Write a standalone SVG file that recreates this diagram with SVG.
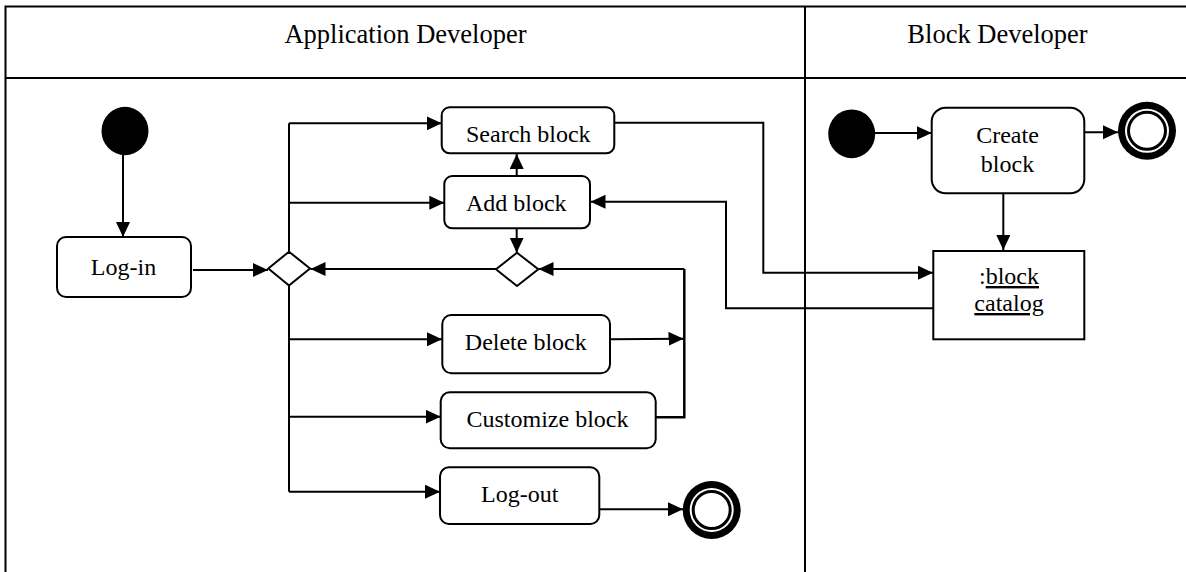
<svg xmlns="http://www.w3.org/2000/svg" width="1186" height="572" viewBox="0 0 1186 572">
<style>
.frame{fill:none;stroke:#000;stroke-width:2}
.act{fill:#fff;stroke:#000;stroke-width:2}
.dia{fill:#fff;stroke:#000;stroke-width:2}
.ln{fill:none;stroke:#000;stroke-width:2}
.arr{fill:none;stroke:#000;stroke-width:2;marker-end:url(#ah)}
.t{font-family:"Liberation Serif","Times New Roman",serif;font-size:24px;fill:#000;text-anchor:middle}
.h{font-family:"Liberation Serif","Times New Roman",serif;font-size:26.5px;fill:#000;text-anchor:middle}
</style>
<defs>
<marker id="ah" markerUnits="userSpaceOnUse" markerWidth="16" markerHeight="15" refX="15" refY="7" orient="auto">
<path d="M0,0 L15,7 L0,14 z" fill="#000"/>
</marker>
</defs>
<rect width="1186" height="572" fill="#fff"/>
<g id="swimlanes">
<path class="frame" d="M5.5,572 V6.5 H1186 M5.5,78 H1186 M805,6.5 V572"/>
<text class="h" x="405.5" y="43">Application Developer</text>
<text class="h" x="997.5" y="43">Block Developer</text>
</g>
<g id="connectors">
<path class="arr" d="M123,155 V237"/>
<path class="arr" d="M193,270 H268"/>
<path class="ln" d="M289,251.7 V123.3 M289,286 V491.7"/>
<path class="arr" d="M289,123.3 H441.7"/>
<path class="arr" d="M289,202.7 H444.3"/>
<path class="arr" d="M289,339.3 H442"/>
<path class="arr" d="M289,416.7 H440.7"/>
<path class="arr" d="M289,491.7 H440"/>
<path class="arr" d="M516.7,176 V154"/>
<path class="arr" d="M516.7,228.3 V252.7"/>
<path class="arr" d="M496,269 H310.5"/>
<path class="arr" d="M684.3,269 H538.5"/>
<path class="ln" d="M684.3,269 V417.3 H655.7" style="stroke-width:2.5"/>
<path class="arr" d="M610.5,339.3 L683.5,338.7"/>
<path class="arr" d="M597,509.3 H683"/>
<path class="arr" d="M614.3,122.7 H763.3 V272.7 H933"/>
<path class="arr" d="M933.3,308.3 H726 V201.7 H590.5"/>
<path class="arr" d="M875,133 H931.7"/>
<path class="arr" d="M1084.3,132.3 H1118"/>
<path class="arr" d="M1003.3,193.3 V250"/>
</g>
<g id="start1"><ellipse cx="125" cy="131" rx="23.5" ry="24.2" fill="#000"/></g>
<g id="login"><rect class="act" x="57" y="237" width="134" height="60" rx="9"/><text class="t" x="123.5" y="275">Log-in</text></g>
<g id="decision1"><path class="dia" d="M268.3,268.5 L289,251.7 L310,268.5 L289,285.5 z"/></g>
<g id="search"><rect class="act" x="441.7" y="107.3" width="172.6" height="46" rx="8"/><text class="t" x="528.3" y="141.7">Search block</text></g>
<g id="add"><rect class="act" x="444.3" y="176" width="145.7" height="52.3" rx="8"/><text class="t" x="516.3" y="210.5">Add block</text></g>
<g id="decision2"><path class="dia" d="M496,269.3 L517,252.7 L538.3,269.3 L517,286 z"/></g>
<g id="delete"><rect class="act" x="442.3" y="315" width="167.7" height="58.3" rx="9"/><text class="t" x="525.8" y="350">Delete block</text></g>
<g id="customize"><rect class="act" x="440.7" y="392.3" width="215" height="56" rx="9"/><text class="t" x="547.5" y="426.7">Customize block</text></g>
<g id="logout"><rect class="act" x="440" y="467.3" width="159.3" height="56.7" rx="9"/><text class="t" x="519.7" y="501.7">Log-out</text></g>
<g id="end1"><circle cx="711.7" cy="510" r="29" fill="#000"/><circle cx="711.7" cy="510" r="22" fill="#fff"/><circle cx="711.7" cy="510" r="18.5" fill="#fff" stroke="#000" stroke-width="3"/></g>
<g id="start2"><ellipse cx="851.7" cy="133.8" rx="23.5" ry="24.4" fill="#000"/></g>
<g id="create"><rect class="act" x="931.7" y="107.7" width="152.6" height="85.6" rx="14"/><text class="t" x="1007.5" y="143">Create</text><text class="t" x="1007.5" y="171.7">block</text></g>
<g id="end2"><circle cx="1147" cy="130.8" r="29" fill="#000"/><circle cx="1147" cy="130.8" r="22" fill="#fff"/><circle cx="1147" cy="130.8" r="18.5" fill="#fff" stroke="#000" stroke-width="3"/></g>
<g id="catalog"><rect class="act" x="933.3" y="251" width="151" height="88.3"/><text class="t" x="1009" y="284">:<tspan text-decoration="underline">block</tspan></text><text class="t" x="1009" y="311" text-decoration="underline">catalog</text></g>
</svg>
